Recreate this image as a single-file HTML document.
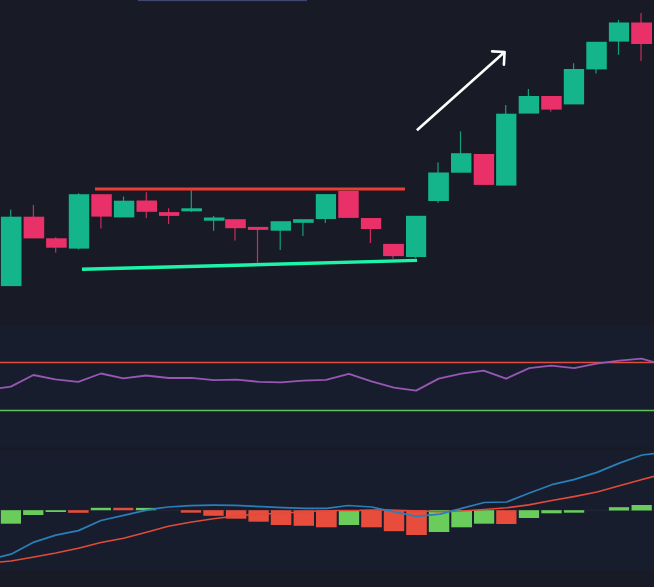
<!DOCTYPE html>
<html lang="en"><head><meta charset="utf-8"><title>Chart</title>
<style>
html,body{margin:0;padding:0;background:#181b26;overflow:hidden}
svg{display:block}
</style></head><body>
<svg width="654" height="587" viewBox="0 0 654 587">
<rect x="0" y="0" width="654" height="587" fill="#181b26"/>
<rect x="138" y="0" width="169" height="1.1" fill="#3e4870"/>
<rect x="0" y="326" width="654" height="121" fill="#171d2d"/>
<rect x="0" y="449.8" width="654" height="121" fill="#171d2d"/>

<rect x="10.1" y="209.6" width="1.2" height="41.8" fill="#14b58a" opacity="0.85"/>
<rect x="0.9" y="216.7" width="20.6" height="69.4" fill="#14b58a"/>
<rect x="32.8" y="205.0" width="1.2" height="22.6" fill="#ea3069" opacity="0.85"/>
<rect x="23.6" y="216.7" width="20.6" height="21.7" fill="#ea3069"/>
<rect x="55.1" y="237.2" width="1.2" height="15.5" fill="#ea3069" opacity="0.85"/>
<rect x="46.1" y="238.3" width="20.6" height="9.4" fill="#ea3069"/>
<rect x="78.0" y="193.2" width="1.2" height="56.1" fill="#14b58a" opacity="0.85"/>
<rect x="68.8" y="194.2" width="20.4" height="54.4" fill="#14b58a"/>
<rect x="100.3" y="205.4" width="1.2" height="23.0" fill="#ea3069" opacity="0.85"/>
<rect x="91.3" y="194.2" width="20.5" height="22.4" fill="#ea3069"/>
<rect x="122.9" y="196.5" width="1.2" height="12.6" fill="#14b58a" opacity="0.85"/>
<rect x="113.9" y="200.7" width="20.4" height="16.7" fill="#14b58a"/>
<rect x="145.7" y="192.2" width="1.2" height="25.8" fill="#ea3069" opacity="0.85"/>
<rect x="136.5" y="200.5" width="20.5" height="11.3" fill="#ea3069"/>
<rect x="168.0" y="208.2" width="1.2" height="15.7" fill="#ea3069" opacity="0.85"/>
<rect x="159.0" y="212.1" width="20.3" height="3.8" fill="#ea3069"/>
<rect x="190.7" y="190.4" width="1.2" height="21.6" fill="#14b58a" opacity="0.85"/>
<rect x="181.4" y="208.3" width="20.6" height="3.0" fill="#14b58a"/>
<rect x="213.0" y="215.9" width="1.2" height="14.9" fill="#14b58a" opacity="0.85"/>
<rect x="203.9" y="217.5" width="20.6" height="3.2" fill="#14b58a"/>
<rect x="234.4" y="223.7" width="1.2" height="16.9" fill="#ea3069" opacity="0.85"/>
<rect x="225.2" y="219.2" width="20.6" height="9.0" fill="#ea3069"/>
<rect x="256.9" y="228.4" width="1.2" height="34.3" fill="#ea3069" opacity="0.85"/>
<rect x="247.9" y="226.9" width="20.4" height="3.0" fill="#ea3069"/>
<rect x="279.6" y="225.9" width="1.2" height="24.1" fill="#14b58a" opacity="0.85"/>
<rect x="270.6" y="221.2" width="20.4" height="9.5" fill="#14b58a"/>
<rect x="302.3" y="221.0" width="1.2" height="14.9" fill="#14b58a" opacity="0.85"/>
<rect x="293.1" y="219.2" width="20.6" height="3.6" fill="#14b58a"/>
<rect x="324.7" y="206.6" width="1.2" height="16.4" fill="#14b58a" opacity="0.85"/>
<rect x="315.8" y="194.1" width="20.2" height="24.9" fill="#14b58a"/>
<rect x="338.3" y="190.9" width="20.4" height="27.0" fill="#ea3069"/>
<rect x="369.8" y="223.5" width="1.2" height="19.5" fill="#ea3069" opacity="0.85"/>
<rect x="360.9" y="218.0" width="20.3" height="11.0" fill="#ea3069"/>
<rect x="392.4" y="250.0" width="1.2" height="8.7" fill="#ea3069" opacity="0.85"/>
<rect x="383.1" y="243.9" width="20.8" height="12.2" fill="#ea3069"/>
<rect x="414.9" y="236.4" width="1.2" height="21.7" fill="#14b58a" opacity="0.85"/>
<rect x="406.0" y="215.8" width="20.2" height="41.2" fill="#14b58a"/>
<rect x="437.4" y="162.4" width="1.2" height="40.5" fill="#14b58a" opacity="0.85"/>
<rect x="428.2" y="172.5" width="20.7" height="28.5" fill="#14b58a"/>
<rect x="459.9" y="131.3" width="1.2" height="31.6" fill="#14b58a" opacity="0.85"/>
<rect x="451.0" y="153.2" width="20.4" height="19.5" fill="#14b58a"/>
<rect x="473.7" y="154.0" width="20.4" height="30.9" fill="#ea3069"/>
<rect x="505.1" y="105.0" width="1.2" height="44.7" fill="#14b58a" opacity="0.85"/>
<rect x="496.1" y="113.7" width="20.3" height="71.9" fill="#14b58a"/>
<rect x="527.8" y="89.0" width="1.2" height="15.8" fill="#14b58a" opacity="0.85"/>
<rect x="518.7" y="96.0" width="20.4" height="17.6" fill="#14b58a"/>
<rect x="550.1" y="102.8" width="1.2" height="8.9" fill="#ea3069" opacity="0.85"/>
<rect x="541.2" y="96.0" width="20.5" height="13.6" fill="#ea3069"/>
<rect x="573.0" y="63.2" width="1.2" height="23.5" fill="#14b58a" opacity="0.85"/>
<rect x="563.8" y="69.0" width="20.3" height="35.4" fill="#14b58a"/>
<rect x="595.4" y="55.6" width="1.2" height="17.9" fill="#14b58a" opacity="0.85"/>
<rect x="586.3" y="41.8" width="20.5" height="27.6" fill="#14b58a"/>
<rect x="617.9" y="19.9" width="1.2" height="35.0" fill="#14b58a" opacity="0.85"/>
<rect x="608.9" y="22.5" width="20.2" height="19.1" fill="#14b58a"/>
<rect x="640.4" y="13.1" width="1.2" height="47.8" fill="#ea3069" opacity="0.85"/>
<rect x="631.2" y="22.5" width="20.8" height="21.5" fill="#ea3069"/>
<line x1="95" y1="189" x2="405" y2="189" stroke="#f03a34" stroke-width="3"/>
<line x1="82" y1="269.3" x2="417" y2="260.4" stroke="#1cf5a8" stroke-width="3.4"/>
<g fill="none" stroke="#ffffff" stroke-width="2.6" stroke-linejoin="round"><path d="M416.9 130.3 L504.3 52.2" stroke-linecap="butt"/><path d="M492.1 51.4 L504.6 52.0 L503.9 64.6" stroke-linecap="round"/></g>
<line x1="0" y1="362.4" x2="654" y2="362.4" stroke="#e24c3c" stroke-width="1.5"/>
<line x1="0" y1="410.5" x2="654" y2="410.5" stroke="#62c358" stroke-width="1.5"/>
<polyline points="0.0,388.1 10.8,386.6 33.4,375.0 55.2,379.3 78.2,381.8 101.0,373.5 123.4,378.3 146.0,375.5 168.6,378.0 191.3,377.9 213.8,380.1 236.5,379.6 259.0,381.8 281.0,382.3 303.0,380.6 326.0,379.8 348.9,373.8 371.5,381.3 394.0,387.6 416.1,390.6 438.7,378.6 461.5,373.6 483.7,370.6 506.1,378.7 529.2,368.1 551.4,365.6 574.1,368.1 596.6,363.7 619.1,360.6 641.5,358.7 654.0,362.1" fill="none" stroke="#9857b3" stroke-width="1.85" stroke-linejoin="round"/>
<line x1="0" y1="510.3" x2="654" y2="510.3" stroke="#222839" stroke-width="1"/>
<rect x="0.8" y="510.2" width="20.2" height="13.5" fill="#6acc5a"/>
<rect x="23.1" y="510.2" width="20.3" height="4.8" fill="#6acc5a"/>
<rect x="45.6" y="510.2" width="20.4" height="1.8" fill="#6acc5a"/>
<rect x="68.1" y="510.2" width="20.5" height="2.6" fill="#e74c3c"/>
<rect x="90.8" y="507.8" width="20.1" height="2.4" fill="#6acc5a"/>
<rect x="113.3" y="507.8" width="20.0" height="2.4" fill="#e74c3c"/>
<rect x="135.9" y="507.9" width="19.8" height="2.3" fill="#6acc5a"/>
<rect x="180.8" y="510.2" width="20.3" height="2.5" fill="#e74c3c"/>
<rect x="203.3" y="510.2" width="20.4" height="5.6" fill="#e74c3c"/>
<rect x="225.9" y="510.2" width="20.4" height="8.5" fill="#e74c3c"/>
<rect x="248.4" y="510.2" width="20.4" height="11.5" fill="#e74c3c"/>
<rect x="270.8" y="510.2" width="20.5" height="14.8" fill="#e74c3c"/>
<rect x="293.6" y="510.2" width="20.4" height="15.6" fill="#e74c3c"/>
<rect x="316.0" y="510.2" width="20.7" height="17.1" fill="#e74c3c"/>
<rect x="338.8" y="510.2" width="20.4" height="14.8" fill="#6acc5a"/>
<rect x="361.2" y="510.2" width="20.6" height="17.1" fill="#e74c3c"/>
<rect x="383.8" y="510.2" width="20.4" height="21.0" fill="#e74c3c"/>
<rect x="406.2" y="510.2" width="20.6" height="24.8" fill="#e74c3c"/>
<rect x="428.8" y="510.2" width="20.5" height="21.8" fill="#6acc5a"/>
<rect x="451.3" y="510.2" width="20.7" height="17.1" fill="#6acc5a"/>
<rect x="474.0" y="510.2" width="20.2" height="13.5" fill="#6acc5a"/>
<rect x="496.2" y="510.2" width="20.3" height="13.8" fill="#e74c3c"/>
<rect x="518.8" y="510.2" width="20.3" height="7.8" fill="#6acc5a"/>
<rect x="541.3" y="510.2" width="20.4" height="3.1" fill="#6acc5a"/>
<rect x="563.9" y="510.2" width="20.3" height="2.5" fill="#6acc5a"/>
<rect x="608.9" y="507.2" width="20.2" height="3.3" fill="#6acc5a"/>
<rect x="631.5" y="505.0" width="20.3" height="5.5" fill="#6acc5a"/>
<polyline points="0.0,562.0 11.0,561.0 34.0,557.0 55.8,553.0 78.4,548.3 100.9,542.5 123.6,538.3 145.6,532.5 168.3,526.3 190.2,522.3 213.3,518.8 225.8,517.2 247.0,515.0 269.8,513.8 292.5,512.5 315.0,511.3 337.7,510.5 360.0,510.4 382.0,509.8 405.0,510.6 427.0,511.2 438.3,511.7 461.7,511.0 484.2,509.5 506.7,507.8 528.8,504.9 551.8,500.5 573.8,496.6 597.0,492.0 619.4,485.8 642.1,479.6 654.0,476.3" fill="none" stroke="#e24a3b" stroke-width="1.6" stroke-linejoin="round"/>
<polyline points="0.0,557.0 11.0,554.2 34.0,542.1 55.8,535.2 78.4,530.6 100.9,520.5 123.6,515.3 145.6,510.3 155.8,508.7 168.3,507.0 190.2,505.6 213.0,505.2 235.2,505.3 261.7,506.7 283.3,507.7 305.0,508.3 326.7,508.3 348.3,505.5 371.7,507.0 393.3,511.7 416.3,516.3 440.0,514.2 461.7,508.3 484.2,502.5 506.7,502.0 528.8,493.3 551.8,484.7 573.8,479.6 597.0,472.4 619.4,463.1 642.1,455.0 654.0,453.7" fill="none" stroke="#2a7fb8" stroke-width="1.75" stroke-linejoin="round"/>
</svg>
</body></html>
